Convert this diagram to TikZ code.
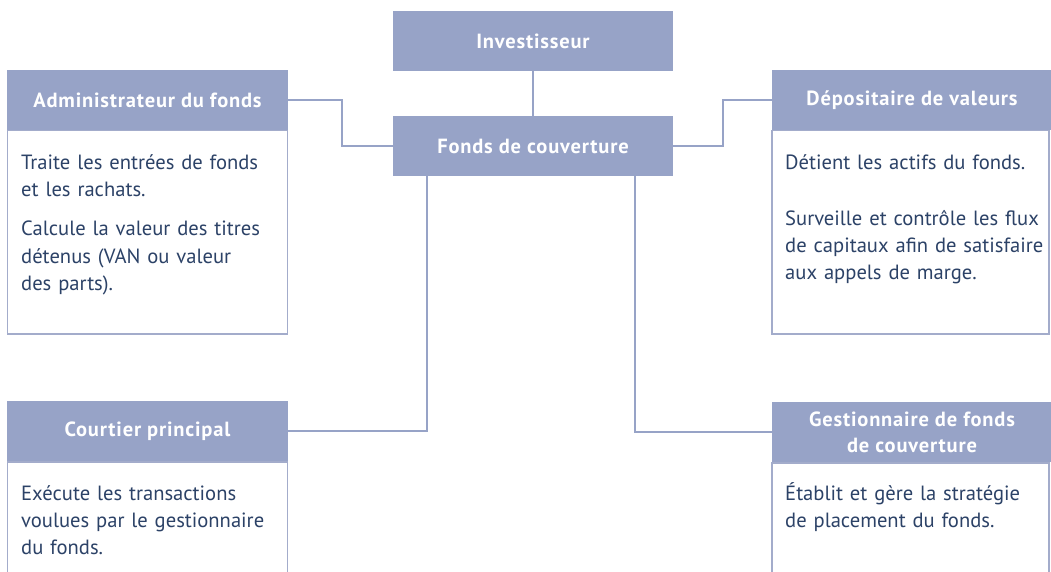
\documentclass[tikz,border=0pt]{standalone}
\usepackage{fontspec}
\setmainfont{PT Sans}
\newfontfamily\hdrfont[LetterSpace=4]{PT Sans}
\definecolor{hdrc}{HTML}{97A3C7}
\definecolor{txtc}{HTML}{2C4267}
\definecolor{brdc}{HTML}{A3ACCB}
\begin{document}
\begin{tikzpicture}[x=1pt,y=-1pt,
  hdr/.style={fill=hdrc, draw=none, inner sep=0pt, font=\hdrfont\fontsize{20.5}{26}\selectfont\bfseries, text=white, align=center, minimum height=60pt},
  bodybox/.style={draw=brdc, line width=1.5pt, fill=white, inner sep=0pt, anchor=north},
  link/.style={draw=hdrc, line width=2pt},
  bodytxt/.style={font=\fontsize{20.6}{27}\selectfont, text=txtc, inner sep=0pt, anchor=base west, align=left, text width=262pt}]
\useasboundingbox (0,0) rectangle (1051,572);
\clip (0,0) rectangle (1051,572);
\fill[white] (0,0) rectangle (1051,572);
% boxes
\node[hdr, minimum width=280pt] (inv) at (533,41) {Investisseur};
\node[hdr, minimum width=280pt] (fonds) at (533,146) {Fonds de couverture};
\node[bodybox, minimum width=280pt, minimum height=203pt] (admB) at (147.5,130) {};
\node[hdr, minimum width=281pt] (admH) at (147.5,100) {Administrateur du fonds};
\node[bodybox, minimum width=277pt, minimum height=203pt] (depB) at (910.5,130) {};
\node[hdr, minimum width=280pt] (depH) at (912,100) {Dépositaire de valeurs};
\node[bodybox, minimum width=280pt, minimum height=140pt] (courB) at (147.5,461) {};
\node[hdr, minimum width=281pt] (courH) at (147.5,431) {Courtier principal};
\node[bodybox, minimum width=277pt, minimum height=140pt] (gestB) at (910.5,462) {};
\node[hdr, minimum width=280pt] (gestH) at (912,432) {Gestionnaire de fonds\\de couverture};
% connectors
\draw[link] (inv.south) -- (fonds.north);
\draw[link] (admH.east) -- ++(54,0) |- (fonds.west);
\draw[link] (fonds.east) -- ++(50,0) |- (depH.west);
\draw[link] ([xshift=-106pt]fonds.south) |- (courH.east);
\draw[link] ([xshift=102pt]fonds.south) |- (gestH.west);
% texts
\node[bodytxt] (admT) at (21,170) {Traite les entrées de fonds\\et les rachats.\\[12pt]Calcule la valeur des titres\\détenus (VAN ou valeur\\des parts).};
\node[bodytxt] (depT) at (785,170) {Détient les actifs du fonds.\\[28pt]Surveille et contrôle les flux\\de capitaux afin de satisfaire\\aux appels de marge.};
\node[bodytxt] (courT) at (21,500) {Exécute les transactions\\voulues par le gestionnaire\\du fonds.};
\node[bodytxt] (gestT) at (785,500) {Établit et gère la stratégie\\de placement du fonds.};
\end{tikzpicture}
\end{document}
